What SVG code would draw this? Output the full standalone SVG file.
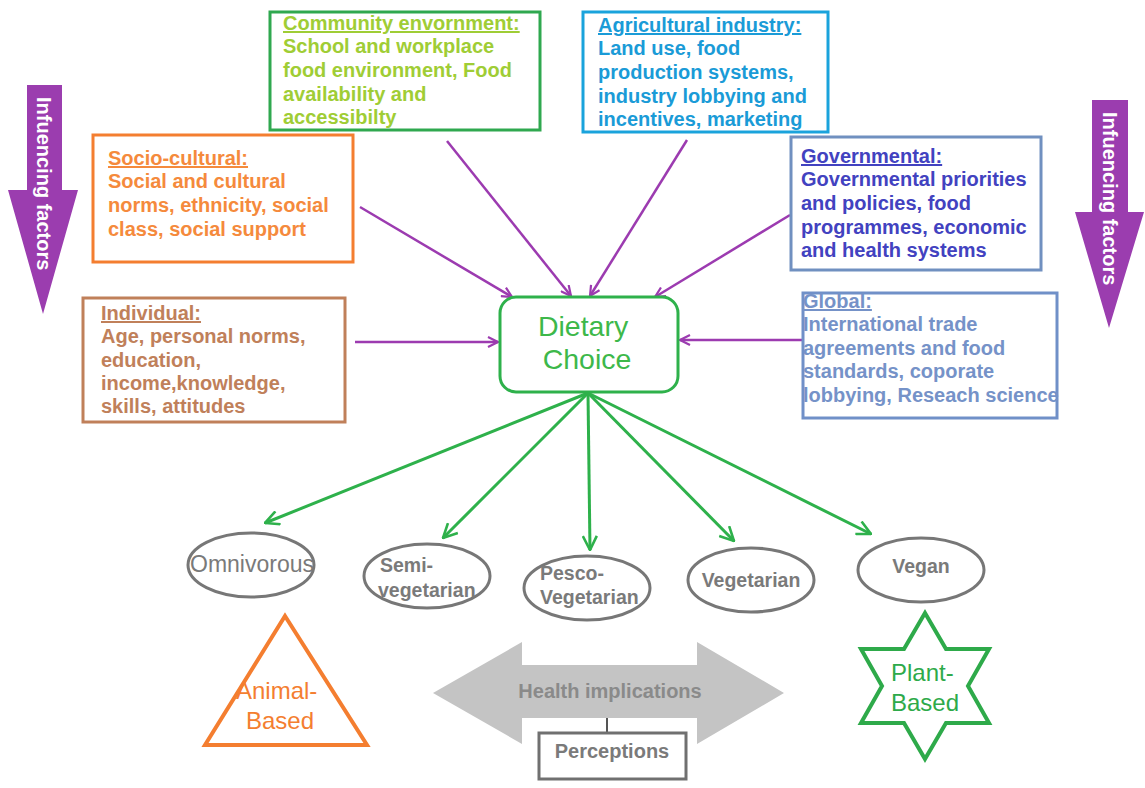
<svg xmlns="http://www.w3.org/2000/svg" width="1145" height="788" viewBox="0 0 1145 788">
  <style>
    .box { fill: #ffffff; stroke-width: 3; }
    .bt { font-family: "Liberation Sans", Arial, sans-serif; font-weight: bold; font-size: 20px; }
    .ttl { text-decoration: underline; }
    .ell { fill: #ffffff; stroke: #777777; stroke-width: 3; }
    .et { font-family: "Liberation Sans", Arial, sans-serif; fill: #7a7a7a; font-size: 19.5px; }
    .in { fill: none; stroke: #9c3bb0; stroke-width: 2.5; }
    .out { fill: none; stroke: #2eb14b; stroke-width: 3; }
    .vt { font-family: "Liberation Sans", Arial, sans-serif; font-weight: bold; font-size: 20px; fill: #ffffff; }
    .big { font-family: "Liberation Sans", Arial, sans-serif; font-size: 24px; }
  </style>
  <defs>
    <marker id="headP" viewBox="0 0 12 12" refX="11" refY="6" markerWidth="12" markerHeight="12" markerUnits="userSpaceOnUse" orient="auto">
      <polyline points="1,1 11,6 1,11" fill="none" stroke="#9c3bb0" stroke-width="2.2"/>
    </marker>
    <marker id="headG" viewBox="0 0 16 16" refX="15" refY="8" markerWidth="16" markerHeight="16" markerUnits="userSpaceOnUse" orient="auto">
      <polyline points="1,1 15,8 1,15" fill="none" stroke="#2eb14b" stroke-width="2.6"/>
    </marker>
  </defs>
  <rect width="1145" height="788" fill="#ffffff"/>

  <!-- side arrows -->
  <g id="arrow-left">
    <path d="M27,85 H62 V190 H78 L43,314 L8,190 H27 Z" fill="#9b3daf"/>
    <text class="vt" transform="translate(37,97) rotate(90)">Infuencing factors</text>
  </g>
  <g id="arrow-right">
    <path d="M1092,100 H1128 V212 H1144 L1109,328 L1075,212 H1092 Z" fill="#9b3daf"/>
    <text class="vt" transform="translate(1103,112) rotate(90)">Infuencing factors</text>
  </g>

  <!-- connectors -->
  <g id="connectors">
    <line class="in" x1="360" y1="207" x2="512" y2="297" marker-end="url(#headP)"/>
    <line class="in" x1="447" y1="141" x2="571" y2="296" marker-end="url(#headP)"/>
    <line class="in" x1="687" y1="140" x2="590" y2="296" marker-end="url(#headP)"/>
    <line class="in" x1="790" y1="215" x2="655" y2="297" marker-end="url(#headP)"/>
    <line class="in" x1="355" y1="342" x2="498" y2="342" marker-end="url(#headP)"/>
    <line class="in" x1="802" y1="340" x2="680" y2="340" marker-end="url(#headP)"/>
    <line class="out" x1="588" y1="393" x2="265" y2="523" marker-end="url(#headG)"/>
    <line class="out" x1="588" y1="393" x2="443" y2="538" marker-end="url(#headG)"/>
    <line class="out" x1="588" y1="393" x2="590" y2="550" marker-end="url(#headG)"/>
    <line class="out" x1="588" y1="393" x2="734" y2="541" marker-end="url(#headG)"/>
    <line class="out" x1="588" y1="393" x2="871" y2="534" marker-end="url(#headG)"/>
    <line x1="607" y1="712" x2="607" y2="733" stroke="#555555" stroke-width="2"/>
  </g>

  <!-- factor boxes -->
  <g id="community">
    <rect class="box" x="270" y="12" width="270" height="118" stroke="#2fa84f"/>
    <text class="bt" fill="#9fcd35" x="283">
      <tspan class="ttl" y="30">Community envornment:</tspan>
      <tspan x="283" y="53">School and workplace</tspan>
      <tspan x="283" y="77">food environment, Food</tspan>
      <tspan x="283" y="101">availability and</tspan>
      <tspan x="283" y="124">accessibilty</tspan>
    </text>
  </g>
  <g id="agricultural">
    <rect class="box" x="583" y="12" width="245" height="120" stroke="#1aa3dc"/>
    <text class="bt" fill="#1a9bd7" x="598">
      <tspan class="ttl" y="32">Agricultural industry:</tspan>
      <tspan x="598" y="55">Land use, food</tspan>
      <tspan x="598" y="79">production systems,</tspan>
      <tspan x="598" y="103">industry lobbying and</tspan>
      <tspan x="598" y="126">incentives, marketing</tspan>
    </text>
  </g>
  <g id="socio-cultural">
    <rect class="box" x="93" y="135" width="260" height="127" stroke="#f47e30"/>
    <text class="bt" fill="#f58a3c" x="108">
      <tspan class="ttl" y="165">Socio-cultural:</tspan>
      <tspan x="108" y="188">Social and cultural</tspan>
      <tspan x="108" y="212">norms, ethnicity, social</tspan>
      <tspan x="108" y="236">class, social support</tspan>
    </text>
  </g>
  <g id="governmental">
    <rect class="box" x="791" y="137" width="250" height="133" stroke="#7090c0"/>
    <text class="bt" fill="#4242c0" x="801">
      <tspan class="ttl" y="163">Governmental:</tspan>
      <tspan x="801" y="186">Governmental priorities</tspan>
      <tspan x="801" y="210">and policies, food</tspan>
      <tspan x="801" y="234">programmes, economic</tspan>
      <tspan x="801" y="257">and health systems</tspan>
    </text>
  </g>
  <g id="individual">
    <rect class="box" x="83" y="298" width="262" height="124" stroke="#c0805a"/>
    <text class="bt" fill="#c0805a" x="101">
      <tspan class="ttl" y="320">Individual:</tspan>
      <tspan x="101" y="343">Age, personal norms,</tspan>
      <tspan x="101" y="367">education,</tspan>
      <tspan x="101" y="390">income,knowledge,</tspan>
      <tspan x="101" y="413">skills, attitudes</tspan>
    </text>
  </g>
  <g id="global">
    <rect class="box" x="803" y="293" width="254" height="125" stroke="#7090c8"/>
    <text class="bt" fill="#7592c8" x="803">
      <tspan class="ttl" y="308">Global:</tspan>
      <tspan x="803" y="331">International trade</tspan>
      <tspan x="803" y="355">agreements and food</tspan>
      <tspan x="803" y="378">standards, coporate</tspan>
      <tspan x="803" y="402">lobbying, Reseach science</tspan>
    </text>
  </g>

  <!-- centre node -->
  <g id="dietary-choice">
    <rect x="500" y="297" width="178" height="95" rx="16" fill="#ffffff" stroke="#2eb14b" stroke-width="3"/>
    <text font-family="'Liberation Sans', Arial, sans-serif" font-size="28.5" fill="#3db84a" text-anchor="middle">
      <tspan x="587" y="336">Dietary</tspan>
      <tspan x="587" y="369">Choice</tspan>
    </text>
  </g>

  <!-- diet types -->
  <g id="omnivorous">
    <ellipse class="ell" cx="251" cy="565" rx="63" ry="32"/>
    <text class="et" x="252" y="572" text-anchor="middle" style="font-size:23px">Omnivorous</text>
  </g>
  <g id="semi-vegetarian">
    <ellipse class="ell" cx="427" cy="576" rx="63" ry="32"/>
    <text class="et" font-weight="bold">
      <tspan x="380" y="572">Semi-</tspan>
      <tspan x="378" y="597">vegetarian</tspan>
    </text>
  </g>
  <g id="pesco-vegetarian">
    <ellipse class="ell" cx="587" cy="588" rx="63" ry="32"/>
    <text class="et" font-weight="bold">
      <tspan x="540" y="580">Pesco-</tspan>
      <tspan x="540" y="604">Vegetarian</tspan>
    </text>
  </g>
  <g id="vegetarian">
    <ellipse class="ell" cx="751" cy="580" rx="63" ry="32"/>
    <text class="et" font-weight="bold" x="751" y="587" text-anchor="middle">Vegetarian</text>
  </g>
  <g id="vegan">
    <ellipse class="ell" cx="921" cy="570" rx="63" ry="32"/>
    <text class="et" font-weight="bold" x="921" y="573" text-anchor="middle">Vegan</text>
  </g>

  <!-- bottom row -->
  <g id="animal-based">
    <polygon points="285,616 367,745 205,745" fill="#ffffff" stroke="#f47e30" stroke-width="4"/>
    <text class="big" fill="#f47e30" text-anchor="middle">
      <tspan x="280" y="699">Animal-</tspan>
      <tspan x="280" y="729">Based</tspan>
    </text>
  </g>
  <g id="health-implications">
    <path d="M433,693 L522,642 V665 H697 V642 L784,693 L697,744 V718 H522 V744 Z" fill="#c4c4c4"/>
    <text font-family="'Liberation Sans', Arial, sans-serif" font-weight="bold" font-size="20" fill="#8a8a8a" x="610" y="698" text-anchor="middle">Health implications</text>
  </g>
  <g id="perceptions">
    <rect x="539" y="733" width="147" height="46" fill="#ffffff" stroke="#707070" stroke-width="3"/>
    <text font-family="'Liberation Sans', Arial, sans-serif" font-weight="bold" font-size="20" fill="#7a7a7a" x="612" y="758" text-anchor="middle">Perceptions</text>
  </g>
  <g id="plant-based">
    <polygon points="925,613 946,649 989,649 968,686 989,723 946,723 925,759 904,723 861,723 882,686 861,649 904,649" fill="#ffffff" stroke="#2eaa4a" stroke-width="4"/>
    <text class="big" fill="#2eaa4a">
      <tspan x="891" y="681">Plant-</tspan>
      <tspan x="891" y="711">Based</tspan>
    </text>
  </g>
</svg>
